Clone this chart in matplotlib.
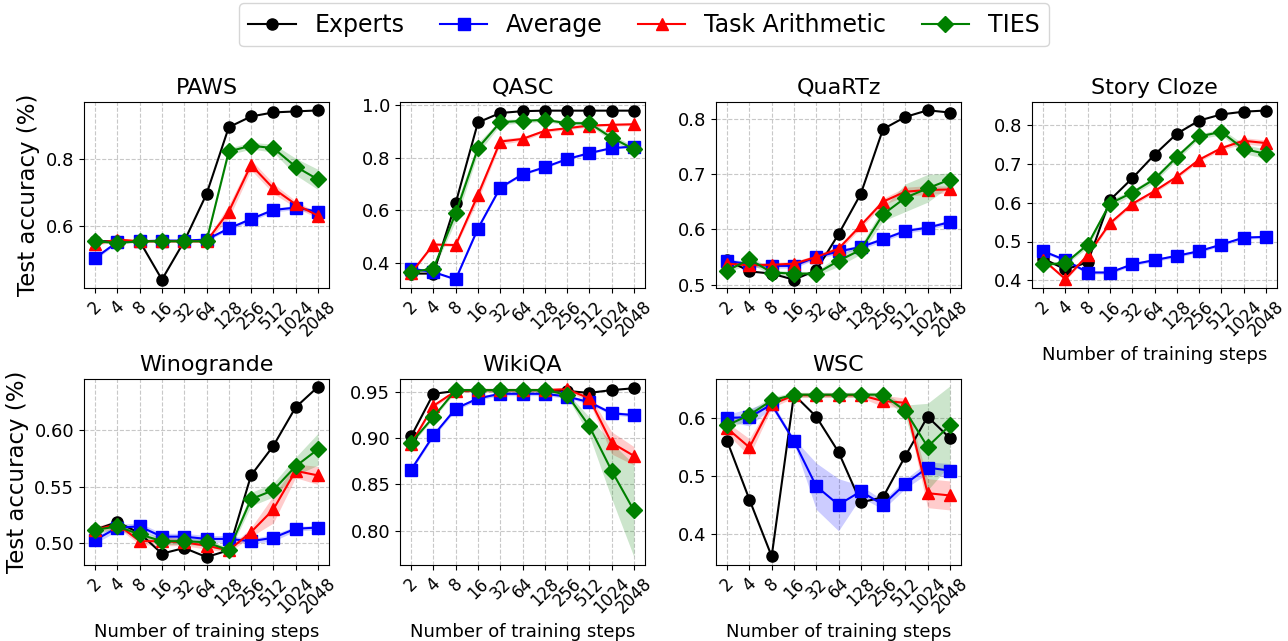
import numpy as np
import matplotlib
matplotlib.use("Agg")
import matplotlib.pyplot as plt

steps = ["2", "4", "8", "16", "32", "64", "128", "256", "512", "1024", "2048"]
methods = ["Experts", "Average", "Task Arithmetic", "TIES"]
colors = ["black", "blue", "red", "green"]
markers = ["o", "s", "^", "D"]

tasks = ["PAWS", "QASC", "QuaRTz", "Story Cloze", "Winogrande", "WikiQA", "WSC"]

# mean accuracy per task, rows = Experts, Average, Task Arithmetic, TIES
paws = [
    [0.555, 0.555, 0.555, 0.441, 0.555, 0.695, 0.894, 0.926, 0.938, 0.941, 0.944],
    [0.505, 0.553, 0.555, 0.557, 0.557, 0.560, 0.593, 0.621, 0.648, 0.655, 0.643],
    [0.547, 0.560, 0.555, 0.555, 0.555, 0.555, 0.643, 0.782, 0.712, 0.665, 0.631],
    [0.555, 0.550, 0.555, 0.555, 0.555, 0.555, 0.822, 0.839, 0.832, 0.777, 0.739],
]
qasc = [
    [0.358, 0.358, 0.627, 0.935, 0.971, 0.978, 0.980, 0.980, 0.980, 0.980, 0.980],
    [0.377, 0.364, 0.336, 0.530, 0.686, 0.737, 0.764, 0.795, 0.818, 0.837, 0.843],
    [0.360, 0.469, 0.467, 0.658, 0.862, 0.872, 0.903, 0.913, 0.923, 0.926, 0.928],
    [0.364, 0.377, 0.588, 0.837, 0.936, 0.941, 0.945, 0.932, 0.932, 0.877, 0.833],
]
quartz = [
    [0.545, 0.524, 0.520, 0.509, 0.526, 0.591, 0.664, 0.781, 0.803, 0.815, 0.811],
    [0.543, 0.537, 0.534, 0.534, 0.550, 0.560, 0.568, 0.582, 0.597, 0.603, 0.613],
    [0.538, 0.535, 0.536, 0.538, 0.550, 0.565, 0.607, 0.650, 0.668, 0.671, 0.672],
    [0.525, 0.546, 0.522, 0.520, 0.520, 0.543, 0.563, 0.627, 0.657, 0.674, 0.690],
]
story = [
    [0.456, 0.428, 0.446, 0.607, 0.663, 0.724, 0.778, 0.812, 0.828, 0.835, 0.838],
    [0.475, 0.452, 0.420, 0.420, 0.441, 0.452, 0.463, 0.475, 0.492, 0.510, 0.512],
    [0.453, 0.403, 0.465, 0.547, 0.597, 0.630, 0.667, 0.711, 0.741, 0.760, 0.754],
    [0.441, 0.444, 0.492, 0.598, 0.626, 0.661, 0.718, 0.771, 0.783, 0.739, 0.726],
]
wino = [
    [0.512, 0.519, 0.509, 0.491, 0.496, 0.488, 0.494, 0.560, 0.586, 0.620, 0.638],
    [0.503, 0.514, 0.515, 0.506, 0.506, 0.504, 0.504, 0.502, 0.505, 0.513, 0.514],
    [0.512, 0.517, 0.502, 0.502, 0.501, 0.498, 0.494, 0.510, 0.530, 0.564, 0.560],
    [0.512, 0.515, 0.508, 0.502, 0.502, 0.501, 0.494, 0.539, 0.547, 0.568, 0.583],
]
wikiqa = [
    [0.902, 0.948, 0.951, 0.952, 0.952, 0.952, 0.952, 0.951, 0.949, 0.952, 0.954],
    [0.866, 0.903, 0.932, 0.943, 0.948, 0.948, 0.948, 0.945, 0.939, 0.927, 0.925],
    [0.894, 0.935, 0.951, 0.952, 0.952, 0.952, 0.952, 0.953, 0.943, 0.895, 0.881],
    [0.895, 0.923, 0.952, 0.952, 0.952, 0.952, 0.952, 0.947, 0.913, 0.865, 0.822],
]
wsc = [
    [0.560, 0.459, 0.361, 0.640, 0.602, 0.541, 0.454, 0.463, 0.534, 0.602, 0.565],
    [0.600, 0.601, 0.623, 0.560, 0.482, 0.450, 0.473, 0.450, 0.486, 0.514, 0.509],
    [0.582, 0.549, 0.623, 0.639, 0.639, 0.639, 0.639, 0.629, 0.626, 0.470, 0.466],
    [0.587, 0.605, 0.630, 0.640, 0.640, 0.640, 0.640, 0.640, 0.612, 0.550, 0.587],
]

# spread (half width of shaded band) for the merging methods
paws_std = [
    [0.005, 0.004, 0.003, 0.003, 0.003, 0.004, 0.005, 0.006, 0.006, 0.006, 0.006],
    [0.004, 0.006, 0.003, 0.003, 0.003, 0.004, 0.020, 0.015, 0.015, 0.010, 0.008],
    [0.003, 0.004, 0.003, 0.003, 0.003, 0.003, 0.010, 0.010, 0.012, 0.025, 0.030],
]
qasc_std = [
    [0.004, 0.004, 0.004, 0.005, 0.005, 0.004, 0.004, 0.004, 0.004, 0.004, 0.004],
    [0.004, 0.005, 0.006, 0.020, 0.010, 0.008, 0.006, 0.006, 0.006, 0.005, 0.005],
    [0.004, 0.005, 0.030, 0.020, 0.010, 0.008, 0.006, 0.008, 0.008, 0.012, 0.012],
]
quartz_std = [
    [0.004, 0.004, 0.004, 0.004, 0.004, 0.004, 0.004, 0.004, 0.004, 0.004, 0.004],
    [0.004, 0.004, 0.004, 0.004, 0.004, 0.005, 0.005, 0.006, 0.008, 0.008, 0.006],
    [0.004, 0.008, 0.004, 0.004, 0.004, 0.010, 0.008, 0.012, 0.025, 0.025, 0.012],
]
story_std = [
    [0.004, 0.004, 0.004, 0.004, 0.004, 0.004, 0.004, 0.004, 0.004, 0.004, 0.004],
    [0.004, 0.004, 0.004, 0.005, 0.005, 0.005, 0.005, 0.005, 0.005, 0.008, 0.008],
    [0.004, 0.004, 0.008, 0.010, 0.006, 0.008, 0.008, 0.006, 0.008, 0.012, 0.012],
]
wino_std = [
    [0.003, 0.003, 0.003, 0.003, 0.003, 0.003, 0.003, 0.002, 0.003, 0.002, 0.002],
    [0.003, 0.003, 0.003, 0.004, 0.003, 0.003, 0.002, 0.004, 0.012, 0.006, 0.008],
    [0.003, 0.003, 0.003, 0.003, 0.003, 0.003, 0.002, 0.006, 0.006, 0.008, 0.014],
]
wikiqa_std = [
    [0.002, 0.002, 0.002, 0.002, 0.002, 0.002, 0.002, 0.002, 0.002, 0.002, 0.002],
    [0.002, 0.002, 0.002, 0.002, 0.002, 0.002, 0.002, 0.002, 0.004, 0.012, 0.010],
    [0.002, 0.002, 0.002, 0.002, 0.002, 0.002, 0.002, 0.002, 0.010, 0.030, 0.050],
]
wsc_std = [
    [0.006, 0.015, 0.006, 0.004, 0.040, 0.045, 0.010, 0.008, 0.008, 0.010, 0.012],
    [0.010, 0.015, 0.006, 0.004, 0.004, 0.004, 0.004, 0.010, 0.008, 0.025, 0.025],
    [0.006, 0.008, 0.006, 0.004, 0.004, 0.004, 0.004, 0.004, 0.010, 0.075, 0.068],
]

ylims = [(0.416, 0.969), (0.303, 1.013), (0.494, 0.830), (0.380, 0.860),
         (0.481, 0.645), (0.763, 0.964), (0.346, 0.667)]
yticks = [[0.6, 0.8], [0.4, 0.6, 0.8, 1.0], [0.5, 0.6, 0.7, 0.8],
          [0.4, 0.5, 0.6, 0.7, 0.8], [0.50, 0.55, 0.60],
          [0.80, 0.85, 0.90, 0.95], [0.4, 0.5, 0.6]]
yfmt = ["%.1f", "%.1f", "%.1f", "%.1f", "%.2f", "%.2f", "%.1f"]

means = [paws, qasc, quartz, story, wino, wikiqa, wsc]
stds = [paws_std, qasc_std, quartz_std, story_std, wino_std, wikiqa_std, wsc_std]

fig = plt.figure(figsize=(12.88, 6.41), dpi=100)
W, H = 1288, 641
lefts = [84, 400, 716, 1032]
aw = 245
tops = [102, 379]
ah = 186

x = np.arange(len(steps))
handles = []
for i, task in enumerate(tasks):
    r, c = divmod(i, 4)
    ax = fig.add_axes([lefts[c] / W, 1 - (tops[r] + ah) / H, aw / W, ah / H])
    ax.grid(True, linestyle="--", color="#c8c8c8", linewidth=0.8)
    ax.set_axisbelow(True)
    for m in range(4):
        y = np.array(means[i][m])
        if m > 0:
            s = np.array(stds[i][m - 1])
            ax.fill_between(x, y - s, y + s, color=colors[m], alpha=0.2, linewidth=0)
        h, = ax.plot(x, y, color=colors[m], marker=markers[m], markersize=8,
                     linewidth=1.5, label=methods[m])
        if i == 0:
            handles.append(h)
    ax.set_xticks(x)
    ax.set_xticklabels(steps, rotation=45, fontsize=12)
    ax.set_xlim(-0.5, len(steps) - 0.5)
    ax.set_ylim(*ylims[i])
    ax.set_yticks(yticks[i])
    ax.set_yticklabels([yfmt[i] % v for v in yticks[i]], fontsize=13)
    ax.set_title(task, fontsize=16)
    if c == 0:
        ax.set_ylabel("Test accuracy (%)", fontsize=16.5)
    if r == 1 or c == 3:
        ax.set_xlabel("Number of training steps", fontsize=13)

fig.legend(handles, methods, loc="upper center", ncol=4, fontsize=17,
           bbox_to_anchor=(0.5, 1.013), handlelength=2, columnspacing=1.5)

fig.savefig("out.png", dpi=100)
